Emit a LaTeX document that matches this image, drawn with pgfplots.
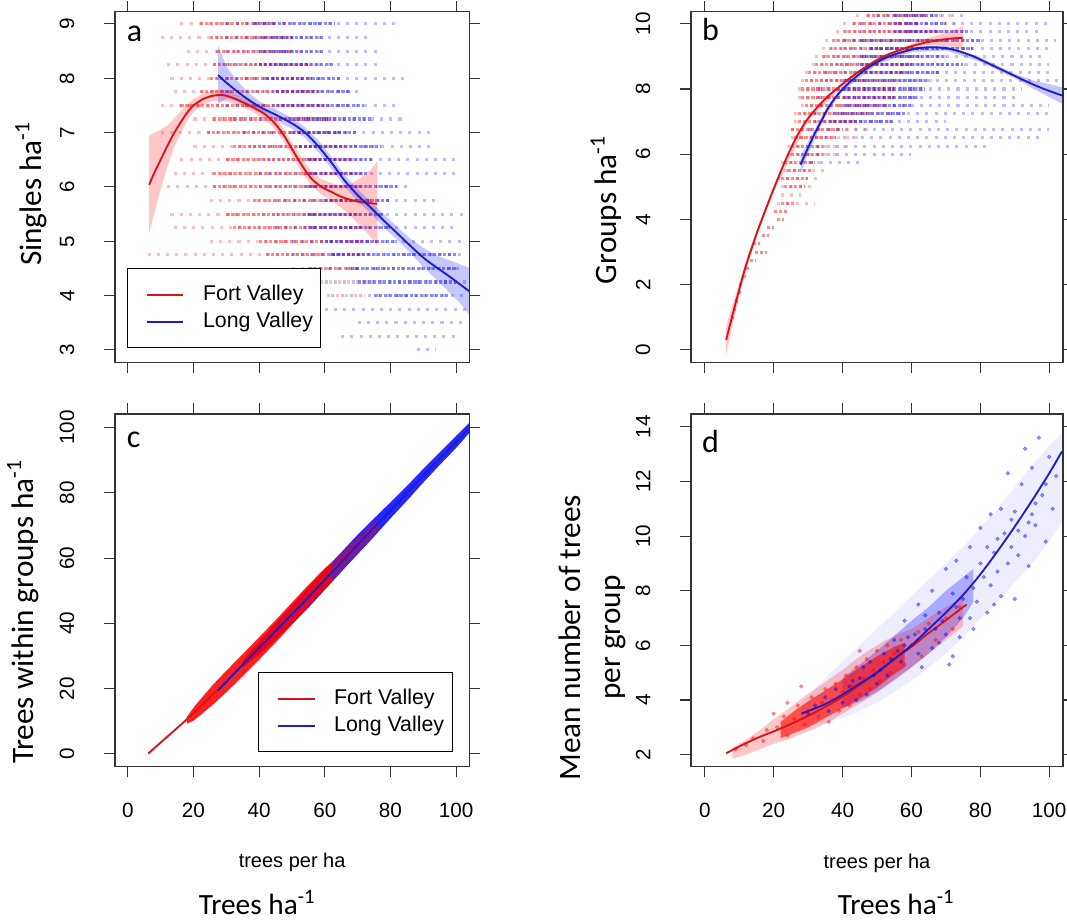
\documentclass[border=0pt]{standalone}
\usepackage{fontspec}
\setmainfont{Liberation Sans}
\newfontfamily\carlito{Carlito}
\usepackage{pgfplots}
\pgfplotsset{compat=1.18}
\definecolor{fvline}{RGB}{215,20,25}
\definecolor{lvline}{RGB}{30,30,200}
\tikzset{letter/.style={anchor=base west, font=\carlito\fontsize{24}{24}\selectfont},
  legtext/.style={anchor=west, font=\fontsize{16}{19}\selectfont, inner sep=0pt}}
\pgfplotsset{
  panel/.style={
    scale only axis, anchor=south west, clip=true,
    axis line style={black!80, line width=0.8pt},
    tick align=outside, major tick length=8pt,
    every tick/.style={black!80, line width=0.8pt},
    xtick={0,20,40,60,80,100},
    tick label style={font=\fontsize{15.5}{18}\selectfont},
    /pgf/number format/assume math mode=true,
    xticklabel style={yshift=-16pt},
    yticklabel style={xshift=-19pt, rotate=90, anchor=south},
    unbounded coords=jump,
    every axis y label/.style={rotate=90, anchor=center, align=center, font=\carlito\fontsize{23.4}{30}\selectfont},
    every axis x label/.style={anchor=center, font=\fontsize{15}{18}\selectfont},
  },
  rowT/.style={forget plot, line width=2.3pt, dash pattern=on 2.3pt off 4.6pt, draw opacity=0.25},
  rowC/.style={forget plot, line width=2.3pt, dash pattern=on 2.4pt off 1.4pt, draw opacity=0.45},
  band/.style={forget plot, draw=none, fill opacity=0.22},
  fit/.style={forget plot, line width=1.4pt, smooth},
}
\begin{document}
\begin{tikzpicture}
\useasboundingbox (0,0) rectangle (800.25pt,691.5pt);

% ---------------- panel a ----------------
\begin{axis}[panel, at={(86.25pt,419.5pt)}, width=265.7pt, height=263.25pt,
  xmin=-3.9, xmax=104, ymin=2.766, ymax=9.226, ytick={3,4,5,6,7,8,9}, xticklabels={},
  ylabel={Singles ha\textsuperscript{-1}},
  every axis y label/.append style={at={(axis description cs:-0.237,0.481)}}]
\addplot[rowT, draw=red] coordinates {
(16,9)(50,9)(nan,nan)(10,8.75)(55,8.75)(nan,nan)(18,8.5)(55,8.5)(nan,nan)(12,8.25)(58,8.25)(nan,nan)
(13,8)(58,8)(nan,nan)(14,7.75)(62,7.75)(nan,nan)(10,7.5)(64,7.5)(nan,nan)(20,7.25)(66,7.25)(nan,nan)
(10,7)(68,7)(nan,nan)(20,6.75)(70,6.75)(nan,nan)(16,6.5)(72,6.5)(nan,nan)(14,6.25)(72,6.25)(nan,nan)
(12,6)(72,6)(nan,nan)(25,5.75)(74,5.75)(nan,nan)(13,5.5)(74,5.5)(nan,nan)(14,5.25)(74,5.25)(nan,nan)
(25,5)(74,5)(nan,nan)(6,4.75)(74,4.75)(nan,nan)(50,4.5)(72,4.5)(nan,nan)(50,4.25)(74,4.25)(nan,nan)
(55,4)(72,4)};
\addplot[rowC, draw=red] coordinates {
(22,9)(45,9)(nan,nan)(25,8.75)(50,8.75)(nan,nan)(27,8.5)(50,8.5)(nan,nan)(26,8.25)(55,8.25)(nan,nan)
(25,8)(55,8)(nan,nan)(22,7.75)(58,7.75)(nan,nan)(16,7.5)(60,7.5)(nan,nan)(26,7.25)(62,7.25)(nan,nan)
(24,7)(65,7)(nan,nan)(32,6.75)(66,6.75)(nan,nan)(30,6.5)(68,6.5)(nan,nan)(26,6.25)(70,6.25)(nan,nan)
(26,6)(70,6)(nan,nan)(38,5.75)(70,5.75)(nan,nan)(30,5.5)(70,5.5)(nan,nan)(32,5.25)(72,5.25)(nan,nan)
(40,5)(72,5)(nan,nan)(42,4.75)(72,4.75)(nan,nan)(55,4.5)(70,4.5)};
\addplot[rowT, draw=blue] coordinates {
(30,9)(82,9)(nan,nan)(30,8.75)(74,8.75)(nan,nan)(30,8.5)(76,8.5)(nan,nan)(30,8.25)(77,8.25)(nan,nan)
(30,8)(86,8)(nan,nan)(30,7.75)(70,7.75)(nan,nan)(30,7.5)(82,7.5)(nan,nan)(32,7.25)(85,7.25)(nan,nan)
(35,7)(93,7)(nan,nan)(38,6.75)(94,6.75)(nan,nan)(40,6.5)(100,6.5)(nan,nan)(40,6.25)(100,6.25)(nan,nan)
(42,6)(85,6)(nan,nan)(45,5.75)(94,5.75)(nan,nan)(45,5.5)(102,5.5)(nan,nan)(45,5.25)(100,5.25)(nan,nan)
(50,5)(102,5)(nan,nan)(50,4.75)(102,4.75)(nan,nan)(58,4.5)(102,4.5)(nan,nan)(60,4.25)(103,4.25)(nan,nan)
(62,4)(102,4)(nan,nan)(60,3.75)(103,3.75)(nan,nan)(70,3.5)(102,3.5)(nan,nan)(65,3.25)(100,3.25)(nan,nan)
(88,3)(94,3)};
\addplot[rowC, draw=blue] coordinates {
(38,9)(63,9)(nan,nan)(40,8.75)(60,8.75)(nan,nan)(40,8.5)(60,8.5)(nan,nan)(40,8.25)(63,8.25)(nan,nan)
(42,8)(65,8)(nan,nan)(45,7.75)(68,7.75)(nan,nan)(45,7.5)(72,7.5)(nan,nan)(50,7.25)(74,7.25)(nan,nan)
(50,7)(70,7)(nan,nan)(52,6.75)(77,6.75)(nan,nan)(55,6.5)(75,6.5)(nan,nan)(55,6.25)(73,6.25)(nan,nan)
(55,6)(82,6)(nan,nan)(60,5.75)(80,5.75)(nan,nan)(55,5.5)(78,5.5)(nan,nan)(55,5.25)(80,5.25)(nan,nan)
(60,5)(82,5)(nan,nan)(62,4.75)(100,4.75)(nan,nan)(68,4.5)(100,4.5)(nan,nan)(70,4.25)(100,4.25)(nan,nan)
(75,4)(98,4)};
\addplot[band, fill=red] coordinates {
(6.5,6.94)(8,7.0)(10,7.05)(12,7.13)(14,7.25)(16,7.38)(18,7.51)(20,7.62)(23,7.72)(26,7.78)(29,7.79)(32,7.74)(35,7.65)(38,7.56)(41,7.46)(44,7.32)(47,7.11)(50,6.82)(53,6.53)(56,6.28)(59,6.14)(62,6.07)(65,6.02)(68,6.06)(71,6.17)(74,6.32)(76,6.47)
(76,4.91)(74,5.08)(71,5.27)(68,5.46)(65,5.62)(62,5.75)(59,5.86)(56,6.02)(53,6.27)(50,6.58)(47,6.89)(44,7.12)(41,7.28)(38,7.38)(35,7.47)(32,7.54)(29,7.59)(26,7.58)(23,7.52)(20,7.38)(18,7.21)(16,6.98)(14,6.71)(12,6.37)(10,5.95)(8,5.5)(6.5,5.14)} -- cycle;
\addplot[band, fill=blue] coordinates {
(27.5,8.6)(30,8.22)(33,7.98)(36,7.78)(40,7.58)(45,7.43)(50,7.27)(54,7.1)(58,6.86)(62,6.56)(66,6.23)(70,5.96)(74,5.73)(78,5.5)(82,5.27)(86,5.05)(90,4.88)(94,4.74)(98,4.65)(101,4.58)(104,4.51)
(104,3.65)(101,3.88)(98,4.05)(94,4.3)(90,4.52)(86,4.79)(82,5.03)(78,5.26)(74,5.51)(70,5.74)(66,6.01)(62,6.34)(58,6.64)(54,6.9)(50,7.07)(45,7.23)(40,7.38)(36,7.5)(33,7.58)(30,7.62)(27.5,7.53)} -- cycle;
\addplot[fit, fvline] coordinates {
(6.5,6.04)(8,6.25)(10,6.5)(12,6.75)(14,6.98)(16,7.18)(18,7.36)(20,7.5)(23,7.62)(26,7.68)(29,7.69)(32,7.64)(35,7.56)(38,7.47)(41,7.37)(44,7.22)(47,7.0)(50,6.7)(53,6.4)(56,6.15)(59,6.0)(62,5.91)(65,5.82)(68,5.76)(71,5.72)(74,5.7)(76,5.69)};
\addplot[fit, lvline] coordinates {
(27.5,8.06)(30,7.92)(35,7.68)(40,7.48)(45,7.33)(50,7.17)(54,7.0)(58,6.75)(62,6.45)(66,6.12)(70,5.85)(74,5.62)(78,5.38)(82,5.15)(86,4.92)(90,4.7)(94,4.52)(98,4.35)(104,4.08)};
% legend
\draw[black, line width=0.8pt, fill=white] (rel axis cs:0.034,0.042) rectangle (rel axis cs:0.581,0.267);
\draw[fvline, line width=1.1pt] (rel axis cs:0.09,0.193) -- (rel axis cs:0.192,0.193);
\draw[lvline, line width=1.1pt] (rel axis cs:0.09,0.116) -- (rel axis cs:0.192,0.116);
\node[legtext] at (rel axis cs:0.248,0.193) {Fort Valley};
\node[legtext] at (rel axis cs:0.248,0.116) {Long Valley};
\node[letter] at (rel axis cs:0.02,0.914) {a};
\end{axis}

% ---------------- panel b ----------------
\begin{axis}[panel, at={(518.25pt,419.5pt)}, width=279pt, height=263.25pt,
  xmin=-4, xmax=104, ymin=-0.39, ymax=10.37, ytick={0,2,4,6,8,10}, xticklabels={},
  ylabel={Groups ha\textsuperscript{-1}},
  every axis y label/.append style={at={(axis description cs:-0.228,0.435)}}]
\addplot[rowT, draw=red] coordinates {
(44,10.25)(72,10.25)(nan,nan)(40,10)(74,10)(nan,nan)(38,9.75)(75,9.75)(nan,nan)(35,9.5)(75,9.5)(nan,nan)
(34,9.25)(72,9.25)(nan,nan)(32,9)(70,9)(nan,nan)(31,8.75)(70,8.75)(nan,nan)(29,8.5)(68,8.5)(nan,nan)
(28,8.25)(66,8.25)(nan,nan)(27,8)(64,8)(nan,nan)(27,7.75)(62,7.75)(nan,nan)(28,7.5)(60,7.5)(nan,nan)
(26,7.25)(56,7.25)(nan,nan)(26,7)(54,7)(nan,nan)(25,6.75)(48,6.75)(nan,nan)(25,6.5)(45,6.5)(nan,nan)
(24,6.25)(42,6.25)(nan,nan)(24,6)(40,6)(nan,nan)(22,5.75)(35,5.75)(nan,nan)(23,5.5)(35,5.5)(nan,nan)
(21,5.25)(33,5.25)(nan,nan)(22,5)(31,5)(nan,nan)(22,4.75)(28,4.75)(nan,nan)(21,4.5)(32,4.5)};
\addplot[rowC, draw=red] coordinates {
(47,10.25)(64,10.25)(nan,nan)(43,10)(62,10)(nan,nan)(40,9.75)(68,9.75)(nan,nan)(37,9.5)(70,9.5)(nan,nan)
(36,9.25)(65,9.25)(nan,nan)(34,9)(62,9)(nan,nan)(32,8.75)(60,8.75)(nan,nan)(30,8.5)(58,8.5)(nan,nan)
(29,8.25)(56,8.25)(nan,nan)(28,8)(55,8)(nan,nan)(28,7.75)(55,7.75)(nan,nan)(29,7.5)(53,7.5)(nan,nan)
(27,7.25)(48,7.25)(nan,nan)(27,7)(45,7)(nan,nan)(25,6.75)(40,6.75)(nan,nan)(26,6.5)(38,6.5)(nan,nan)
(25,6.25)(35,6.25)(nan,nan)(25,6)(35,6)(nan,nan)(23,5.75)(32,5.75)(nan,nan)(24,5.5)(31,5.5)(nan,nan)
(22,5.25)(30,5.25)(nan,nan)(23,5)(29,5)(nan,nan)(22,4.5)(26,4.5)(nan,nan)
(20,4.25)(24,4.25)(nan,nan)(21,4)(23,4)(nan,nan)(18,3.75)(20,3.75)(nan,nan)(16.5,3.5)(18.5,3.5)(nan,nan)
(14,3.25)(16,3.25)(nan,nan)(14.5,3)(18,3)(nan,nan)(13,2.75)(15,2.75)(nan,nan)(12,2.5)(13,2.5)(nan,nan)
(11,2.25)(12,2.25)(nan,nan)(10,2)(11,2)(nan,nan)(9.5,1.75)(10.5,1.75)(nan,nan)(8.8,1.5)(9.6,1.5)(nan,nan)
(8.4,1.25)(9.2,1.25)(nan,nan)(7.8,1)(8.6,1)};
\addplot[rowT, draw=blue] coordinates {
(50,10.25)(75,10.25)(nan,nan)(45,10)(100,10)(nan,nan)(45,9.75)(98,9.75)(nan,nan)(40,9.5)(102,9.5)(nan,nan)
(40,9.25)(100,9.25)(nan,nan)(38,9)(98,9)(nan,nan)(38,8.75)(100,8.75)(nan,nan)(35,8.5)(101,8.5)(nan,nan)
(35,8.25)(103,8.25)(nan,nan)(33,8)(92,8)(nan,nan)(33,7.75)(90,7.75)(nan,nan)(33,7.5)(100,7.5)(nan,nan)
(32,7.25)(100,7.25)(nan,nan)(32,7)(70,7)(nan,nan)(30,6.75)(100,6.75)(nan,nan)(32,6.5)(98,6.5)(nan,nan)
(30,6.25)(82,6.25)(nan,nan)(30,6)(60,6)(nan,nan)(28,5.75)(45,5.75)};
\addplot[rowC, draw=blue] coordinates {
(55,10.25)(68,10.25)(nan,nan)(55,10)(70,10)(nan,nan)(55,9.75)(77,9.75)(nan,nan)(45,9.5)(80,9.5)(nan,nan)
(48,9.25)(78,9.25)(nan,nan)(45,9)(70,9)(nan,nan)(45,8.75)(75,8.75)(nan,nan)(45,8.5)(68,8.5)(nan,nan)
(40,8.25)(65,8.25)(nan,nan)(40,8)(64,8)(nan,nan)(40,7.75)(62,7.75)(nan,nan)(40,7.5)(60,7.5)(nan,nan)
(38,7.25)(58,7.25)(nan,nan)(36,7)(55,7)};
\addplot[band, fill=red] coordinates {
(6.2,0.75)(8,1.35)(10,2.05)(12,2.75)(15,3.65)(20,4.97)(30,7.17)(40,8.22)(50,8.95)(60,9.38)(65,9.57)(70,9.72)(75,9.92)
(75,9.22)(70,9.32)(65,9.33)(60,9.24)(50,8.81)(40,8.08)(30,7.03)(20,4.83)(15,3.45)(12,2.45)(10,1.65)(8,0.75)(6.2,-0.15)} -- cycle;
\addplot[band, fill=blue] coordinates {
(27.8,5.95)(30,6.38)(35,7.37)(40,8.07)(50,8.89)(60,9.27)(70,9.32)(80,8.97)(90,8.47)(95,8.27)(100,8.15)(103.7,8.05)
(103.7,7.55)(100,7.75)(95,8.03)(90,8.33)(80,8.83)(70,9.18)(60,9.13)(50,8.75)(40,7.93)(35,7.17)(30,6.02)(27.8,5.41)} -- cycle;
\addplot[fit, fvline] coordinates {
(6.2,0.3)(8,1.05)(10,1.85)(12,2.6)(15,3.55)(18,4.4)(21,5.2)(24,5.95)(27,6.6)(30,7.1)(33,7.48)(36,7.8)(40,8.15)(44,8.48)(48,8.76)(52,9.0)(56,9.17)(60,9.31)(64,9.42)(68,9.5)(72,9.55)(75,9.57)};
\addplot[fit, lvline] coordinates {
(27.8,5.68)(30,6.2)(32,6.65)(34,7.05)(36,7.45)(39,7.88)(42,8.2)(46,8.55)(50,8.82)(54,9.02)(58,9.15)(62,9.25)(66,9.28)(70,9.25)(74,9.15)(78,9.0)(82,8.8)(86,8.6)(90,8.4)(94,8.2)(98,8.02)(103.7,7.8)};
\node[letter] at (rel axis cs:0.017,0.919) {b};
\end{axis}

% ---------------- panel c ----------------
\begin{axis}[panel, at={(86.25pt,116.5pt)}, width=265.7pt, height=264.5pt,
  xmin=-3.9, xmax=104, ymin=-3.9, ymax=104.2, ytick={0,20,40,60,80,100},
  xlabel={trees per ha},
  every axis x label/.append style={at={(axis description cs:0.5,-0.27)}},
  ylabel={Trees within groups ha\textsuperscript{-1}},
  every axis y label/.append style={at={(axis description cs:-0.26,0.439)}}]
\addplot[band, fill=blue, fill opacity=0.85] coordinates {
(35,28.5)(40,34.5)(45,40.2)(50,45.6)(55,51)(60,56.4)(65,61.8)(70,67.2)(75,72.2)(80,77.1)(85,82.1)(90,87.4)(95,92.4)(100,97.5)(104,101.5)
(104,98.4)(100,93.8)(95,88.6)(90,83.2)(85,77.6)(80,72.2)(75,66.6)(70,61.2)(65,55.8)(60,50.3)(55,44.8)(50,39.8)(45,35)(40,30.5)(35,26.5)} -- cycle;
\addplot[band, fill=red, fill opacity=0.88] coordinates {
(18,11.3)(20,14.2)(22,16.6)(26,21.3)(30,25.5)(35,30.6)(40,35.8)(45,41)(50,46.4)(55,51.8)(60,56.9)(62,58.6)
(62,52.8)(60,50.6)(55,45.2)(50,39.6)(45,34.1)(40,28.9)(35,23.8)(30,18.9)(26,15.2)(22,11.8)(20,10.2)(18,9.3)} -- cycle;
\addplot[band, fill=red, fill opacity=0.4] coordinates {
(60,56.9)(65,61.7)(70,66.4)(76,72)(76,68.3)(70,61.8)(65,56.3)(60,50.6)} -- cycle;
\addplot[fit, fvline] coordinates {
(6.2,0.1)(10,3.5)(14,7.02)(18,10.64)(22,14.4)(26,18.3)(30,22.33)(35,27.45)(40,32.6)(45,37.85)(50,43.3)(55,48.8)(60,54.05)(65,59.2)(70,64.27)(76,70.31)};
\addplot[fit, lvline] coordinates {
(27.5,19.44)(30,22.08)(35,27.32)(40,32.52)(45,37.67)(50,42.83)(55,48.05)(60,53.4)(65,58.8)(70,64.15)(75,69.4)(80,74.65)(85,79.9)(90,85.3)(95,90.5)(100,95.6)(104,99.92)};
% legend
\draw[black, line width=0.8pt, fill=white] (rel axis cs:0.406,0.0425) rectangle (rel axis cs:0.953,0.2665);
\draw[fvline, line width=1.1pt] (rel axis cs:0.46,0.192) -- (rel axis cs:0.565,0.192);
\draw[lvline, line width=1.1pt] (rel axis cs:0.46,0.115) -- (rel axis cs:0.565,0.115);
\node[legtext] at (rel axis cs:0.618,0.192) {Fort Valley};
\node[legtext] at (rel axis cs:0.618,0.115) {Long Valley};
\node[letter] at (rel axis cs:0.02,0.906) {c};
\end{axis}

% ---------------- panel d ----------------
\begin{axis}[panel, at={(518.25pt,116.5pt)}, width=279pt, height=264.5pt,
  xmin=-4, xmax=104, ymin=1.56, ymax=14.47, ytick={2,4,6,8,10,12,14},
  xlabel={trees per ha},
  every axis x label/.append style={at={(axis description cs:0.5,-0.273)}},
  ylabel={Mean number of trees\\per group},
  every axis y label/.append style={at={(axis description cs:-0.266,0.366)}}]
\addplot[band, fill=blue, fill opacity=0.07] coordinates {
(28,3.9)(35,4.8)(40,5.4)(45,6.0)(50,6.6)(55,7.2)(60,7.8)(65,8.4)(70,9.0)(75,9.6)(80,10.3)(85,11.0)(90,11.8)(95,12.6)(100,13.3)(103.7,13.8)
(103.7,10.5)(100,9.8)(95,9.0)(90,8.3)(85,7.6)(80,7.0)(75,6.3)(70,5.7)(65,5.2)(60,4.7)(55,4.3)(50,3.9)(45,3.6)(40,3.35)(35,3.15)(28,3.05)} -- cycle;
\addplot[band, fill=blue, fill opacity=0.28] coordinates {
(40,4.8)(45,5.3)(50,5.8)(55,6.35)(60,6.9)(65,7.4)(70,8.0)(75,8.5)(78,8.8)
(78,7.6)(75,7.0)(70,6.3)(65,5.7)(60,5.2)(55,4.75)(50,4.3)(45,3.95)(40,3.7)} -- cycle;
\addplot[band, fill=red, fill opacity=0.22] coordinates {
(8,2.25)(12,2.55)(16,2.9)(20,3.3)(24,3.65)(28,4.05)(32,4.4)(36,4.75)(40,5.1)(44,5.5)(48,5.85)(52,6.15)(56,6.4)(60,6.6)(65,7.0)(70,7.4)(75,7.8)
(75,6.7)(70,6.2)(65,5.7)(60,5.2)(56,4.8)(52,4.45)(48,4.1)(44,3.8)(40,3.5)(36,3.2)(32,2.95)(28,2.75)(24,2.55)(20,2.4)(16,2.2)(12,2.0)(8,1.85)} -- cycle;
\addplot[band, fill=red, fill opacity=0.6] coordinates {
(22,3.2)(26,3.6)(30,3.95)(35,4.35)(40,4.75)(45,5.2)(50,5.6)(55,5.95)(58,6.1)
(58,5.2)(55,4.95)(50,4.45)(45,4.05)(40,3.7)(35,3.35)(30,3.0)(26,2.8)(22,2.6)} -- cycle;
\addplot[forget plot, only marks, mark=*, mark size=1.4pt, color=blue, opacity=0.4] coordinates {
(97,13.6)(93,13.2)(100,12.9)(95,12.5)(88,12.3)(92,11.9)(98,11.5)(86,11.0)(101,11.0)(90,10.9)(83,10.8)(96,10.4)(80,10.3)(87,10.1)(93,10.0)(99,9.8)(77,9.6)(84,9.4)(91,9.3)(73,9.1)(80,9.0)(88,9.0)(70,8.8)(76,8.5)(94,8.9)(83,8.2)(66,8.0)(72,7.9)(86,7.8)(79,7.6)(62,7.5)(68,7.2)(74,7.0)(90,7.7)(58,6.9)(64,6.6)(70,6.4)(78,6.6)(55,6.2)(60,6.0)(66,5.9)(72,5.6)(52,5.7)(57,5.4)(63,5.2)(48,5.4)(53,4.9)(45,4.8)(50,4.6)(42,4.5)(47,4.2)(38,4.4)(44,4.0)(35,4.1)(40,3.9)(32,3.8)(36,3.6)(30,3.5)(71,5.3)(82,7.2)(95,10.8)(89,9.6)
(102,12.2)(99,11.9)(96,11.2)(94,10.5)(91,10.2)(89,10.6)(85,9.9)(82,9.6)(85,8.7)(81,8.5)(78,8.1)(75,7.7)(73,7.4)(69,6.9)(67,6.6)(64,7.1)(61,6.4)(59,6.3)(56,5.8)(54,5.5)(51,5.1)(49,4.9)(58,6.0)(62,5.7)(68,6.1)(74,6.3)(77,7.0)(84,7.5)(46,5.2)(43,4.7)};
\addplot[forget plot, only marks, mark=*, mark size=1.4pt, color=red, opacity=0.4] coordinates {
(9,2.2)(12,2.35)(14,2.6)(17,2.5)(18,2.9)(21,3.0)(23,3.4)(24,2.7)(26,3.3)(27,3.8)(29,3.1)(30,3.6)(31,4.1)(33,3.4)(34,3.9)(35,4.4)(36,3.2)(37,4.0)(38,4.6)(39,3.6)(40,4.3)(41,4.9)(42,3.8)(43,4.5)(44,5.2)(45,4.2)(46,4.8)(47,5.5)(48,4.4)(49,5.1)(50,5.8)(51,4.7)(52,5.4)(53,6.0)(54,5.0)(55,5.7)(57,6.2)(58,5.3)(60,6.0)(62,6.5)(63,5.6)(65,6.8)(67,6.2)(70,7.0)(72,6.6)(74,7.4)(24,3.9)(20,3.5)(28,4.5)(45,5.8)};
\addplot[fit, fvline] coordinates {
(6.2,2.05)(10,2.3)(15,2.6)(20,2.85)(25,3.12)(30,3.42)(35,3.75)(40,4.12)(45,4.55)(50,5.02)(55,5.5)(60,5.95)(65,6.45)(70,6.92)(76,7.5)};
\addplot[fit, lvline] coordinates {
(28,3.5)(35,3.85)(40,4.2)(45,4.6)(50,5.0)(55,5.5)(60,6.0)(65,6.6)(70,7.2)(75,7.85)(80,8.6)(85,9.45)(90,10.35)(95,11.3)(100,12.3)(103.7,13.1)};
\node[letter] at (rel axis cs:0.017,0.892) {d};
\end{axis}

\node[anchor=base, font=\carlito\fontsize{22}{24}\selectfont] at (192.75pt,6pt) {Trees ha\textsuperscript{-1}};
\node[anchor=base, font=\carlito\fontsize{22}{24}\selectfont] at (672pt,6pt) {Trees ha\textsuperscript{-1}};
\end{tikzpicture}
\end{document}
